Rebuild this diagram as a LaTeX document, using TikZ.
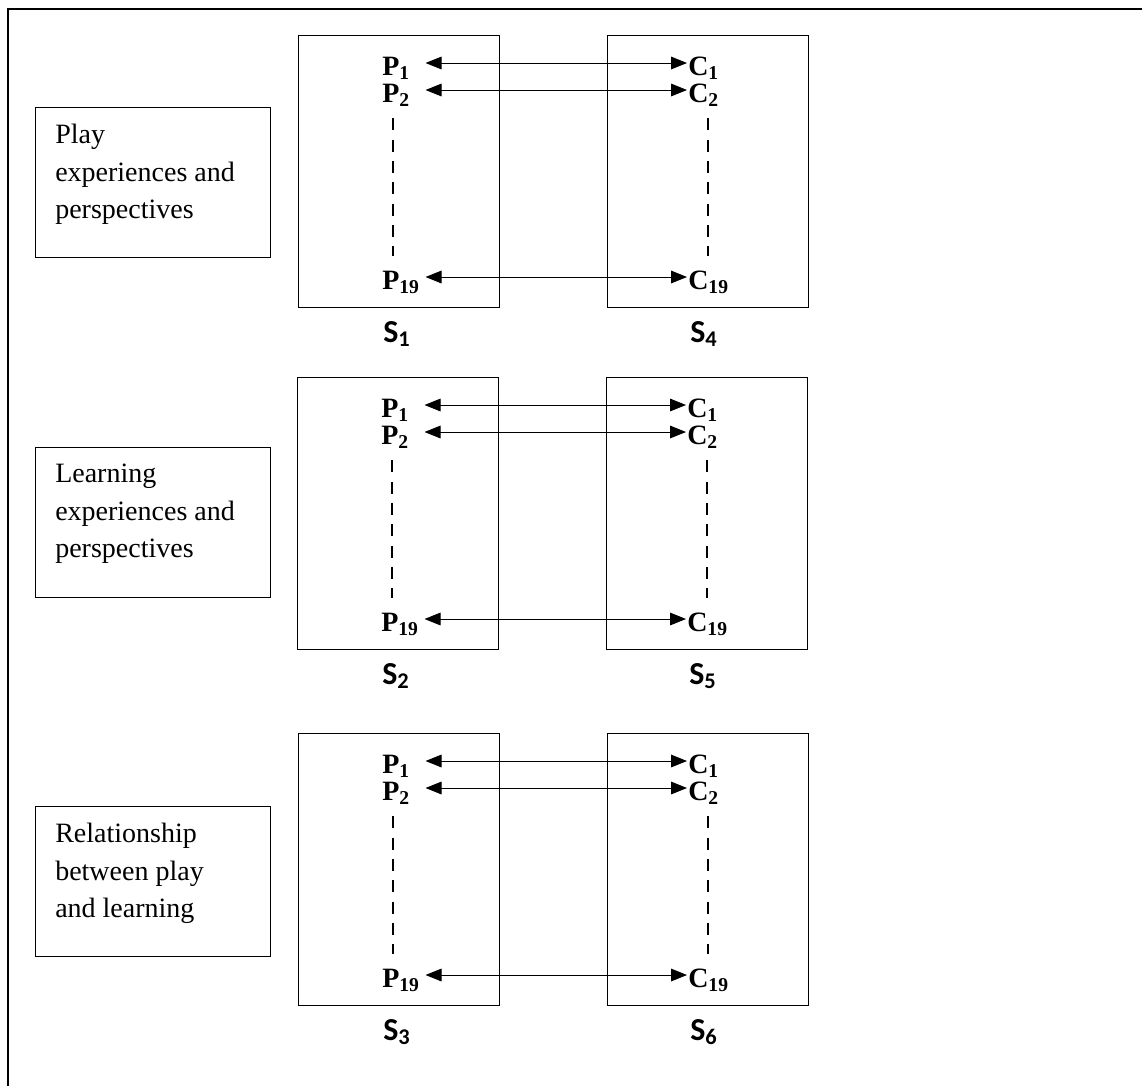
\documentclass[tikz,border=0pt]{standalone}
\usepackage{fontspec}
\setmainfont{Liberation Serif}
\setsansfont{Carlito}
\usetikzlibrary{arrows.meta,calc}
\tikzset{
 outerline/.style={line width=1.2pt},
 colbox/.style={draw, line width=0.9pt, inner sep=0pt, minimum width=150.75pt, minimum height=204pt, anchor=north west},
 txtbox/.style={draw, line width=0.9pt, inner sep=0pt, minimum width=176.25pt, minimum height=112.5pt, anchor=north west},
 txtlab/.style={inner sep=0pt, anchor=north west, align=left, font=\fontsize{21}{28}\selectfont},
 plab/.style={inner sep=0pt, anchor=base west, text width=24.75pt, align=left, text height=18pt, text depth=0pt, font=\bfseries\fontsize{21}{25}\selectfont},
 slab/.style={inner sep=0pt, anchor=base west, font=\sffamily\bfseries\fontsize{24}{28}\selectfont},
 link/.style={{Triangle[length=12pt,width=9.5pt]}-{Triangle[length=12pt,width=9.5pt]}, line width=0.75pt, shorten <=7.5pt, shorten >=0.75pt},
 dots/.style={line width=2pt, dash pattern=on 9pt off 7pt},
}
\newcommand\mygroup[7]{%
 \node[colbox] (L#1) at (298+#3,#2) {};
 \node[colbox] (R#1) at (607+#3,#2) {};
 \node[txtbox] (T#1) at (35,#4) {};
 \node[txtlab] (t#1) at (55,#4+17) {#7};
 \node[plab] (Pa#1) at (382+#3,#2+40) {P\textsubscript{1}};
 \node[plab] (Pb#1) at (382+#3,#2+67) {P\textsubscript{2}};
 \node[plab] (Pc#1) at (382+#3,#2+254) {P\textsubscript{19}};
 \node[plab] (Ca#1) at (688+#3,#2+40) {C\textsubscript{1}};
 \node[plab] (Cb#1) at (688+#3,#2+67) {C\textsubscript{2}};
 \node[plab] (Cc#1) at (688+#3,#2+254) {C\textsubscript{19}};
 \draw[link] (Pa#1.east) -- (Ca#1.west);
 \draw[link] (Pb#1.east) -- (Cb#1.west);
 \draw[link] (Pc#1.east) -- (Cc#1.west);
 \draw[dots] ($(Pb#1.south west)+(11,16)$) -- ($(Pc#1.north west)+(11,-9)$);
 \draw[dots] ($(Cb#1.south west)+(20,16)$) -- ($(Cc#1.north west)+(20,-9)$);
 \node[slab] (SL#1) at (383+#3,#2+307) {S\textsubscript{#5}};
 \node[slab] (SR#1) at (690+#3,#2+307) {S\textsubscript{#6}};
}
\begin{document}
\begin{tikzpicture}[x=0.75pt,y=-0.75pt]
\useasboundingbox (0,0) rectangle (1142,1086);
\coordinate (fa) at (8,1086);
\coordinate (fb) at (8,9);
\coordinate (fc) at (1142,9);
\draw[outerline] (fa) -- (fb) -- (fc);
\mygroup{a}{35}{0}{107}{1}{4}{Play\\experiences and\\perspectives}
\mygroup{b}{377}{-1}{447}{2}{5}{Learning\\experiences and\\perspectives}
\mygroup{c}{733}{0}{806}{3}{6}{Relationship\\between play\\and learning}
\end{tikzpicture}
\end{document}
